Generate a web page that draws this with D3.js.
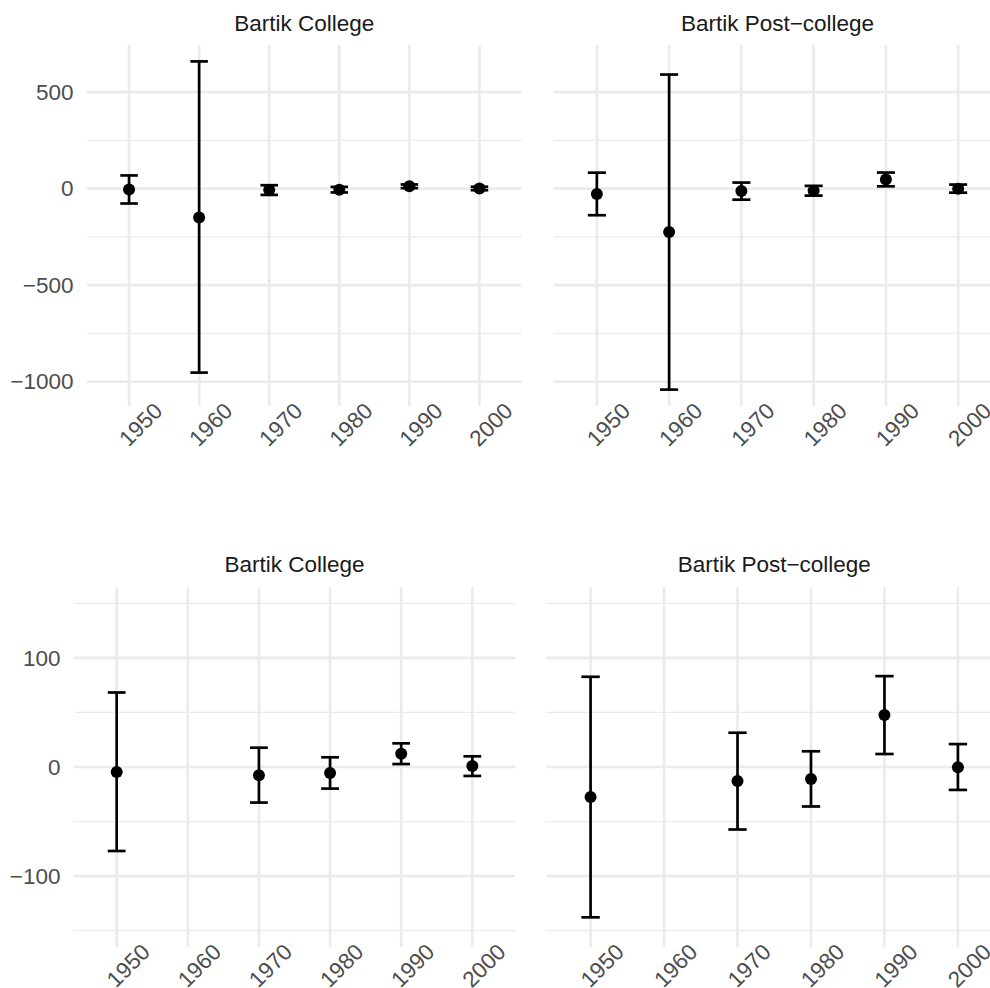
<!DOCTYPE html>
<html>
<head>
<meta charset="utf-8">
<script src="https://cdn.jsdelivr.net/npm/d3@7"></script>
<style>
  body { margin: 0; background: #fff; }
  svg { display: block; font-family: 'Liberation Sans', Arial, Helvetica, sans-serif; }
</style>
</head>
<body>
<script>
'use strict';

// data
const years = ['1950', '1960', '1970', '1980', '1990', '2000'];

const collegeEst = [-4.6, -149, -7.6, -5.5, 12.2, 0.9];
const collegeLo = [-77, -953, -32.6, -19.8, 2.7, -8.2];
const collegeHi = [68.3, 659, 17.7, 8.9, 21.7, 9.8];

const postEst = [-27.4, -225, -12.8, -11, 47.6, -0.3];
const postLo = [-137.8, -1041, -57.3, -36.2, 11.9, -21];
const postHi = [82.7, 591, 31.4, 14.4, 83.3, 21];

const topMajor = [-1000, -500, 0, 500];
const topMinor = [-750, -250, 250, 750];
const zoomLimits = [-150, 150];
const zoomMajor = [-100, 0, 100];
const zoomMinor = [-150, -50, 50, 150];

const makeRows = (est, lo, hi) =>
  years.map((yr, i) => ({ year: yr, est: est[i], lo: lo[i], hi: hi[i] }));

const college = makeRows(collegeEst, collegeLo, collegeHi);
const post = makeRows(postEst, postLo, postHi);

const expand = ([a, b]) => [a - (b - a) * 0.05, b + (b - a) * 0.05];

// top row: full range shared by both facets
const topDomain = expand(d3.extent([...college, ...post].flatMap(d => [d.lo, d.hi])));
const zoomDomain = expand(zoomLimits);
// rows outside the limits are dropped, as ggplot does
const inLimits = d => d.lo >= zoomLimits[0] && d.hi <= zoomLimits[1];

const svg = d3
  .select('body')
  .append('svg')
  .attr('width', 990)
  .attr('height', 988);

const panels = [
  { title: 'Bartik College', data: college, domain: topDomain, major: topMajor, minor: topMinor,
    x0: 87, x1: 521.5, y0: 45, y1: 406, titleY: 31, yLabels: true },
  { title: 'Bartik Post\u2212college', data: post, domain: topDomain, major: topMajor, minor: topMinor,
    x0: 553.5, x1: 1001.5, y0: 45, y1: 406, titleY: 31, yLabels: false },
  { title: 'Bartik College', data: college.filter(inLimits), domain: zoomDomain, major: zoomMajor, minor: zoomMinor,
    x0: 74, x1: 515, y0: 587, y1: 947, titleY: 572, yLabels: true },
  { title: 'Bartik Post\u2212college', data: post.filter(inLimits), domain: zoomDomain, major: zoomMajor, minor: zoomMinor,
    x0: 546.5, x1: 1002, y0: 587, y1: 947, titleY: 572, yLabels: false },
];

const fmt = d => (d < 0 ? '\u2212' + Math.abs(d) : String(d));
const gridColor = '#ebebeb';

const drawPanel = p => {
  const x = d3.scalePoint().domain(years).range([p.x0, p.x1]).padding(0.6);
  const y = d3.scaleLinear().domain(p.domain).range([p.y1, p.y0]);
  const g = svg.append('g');
  const inside = v => y(v) >= p.y0 && y(v) <= p.y1;

  // minor grid
  g.selectAll('.minor')
    .data(p.minor.filter(inside))
    .enter()
    .append('line')
    .attr('x1', p.x0)
    .attr('x2', p.x1)
    .attr('y1', d => y(d))
    .attr('y2', d => y(d))
    .attr('stroke', gridColor)
    .attr('stroke-width', 1.3);

  // major grid
  g.selectAll('.major')
    .data(p.major.filter(inside))
    .enter()
    .append('line')
    .attr('x1', p.x0)
    .attr('x2', p.x1)
    .attr('y1', d => y(d))
    .attr('y2', d => y(d))
    .attr('stroke', gridColor)
    .attr('stroke-width', 2.6);

  g.selectAll('.vgrid')
    .data(years)
    .enter()
    .append('line')
    .attr('x1', d => x(d))
    .attr('x2', d => x(d))
    .attr('y1', p.y0)
    .attr('y2', p.y1)
    .attr('stroke', gridColor)
    .attr('stroke-width', 2.6);

  // strip title
  g.append('text')
    .attr('x', (p.x0 + p.x1) / 2)
    .attr('y', p.titleY)
    .attr('text-anchor', 'middle')
    .attr('fill', '#1a1a1a')
    .attr('font-size', 22.5)
    .text(p.title);

  // y axis labels
  if (p.yLabels) {
    const yAxis = d3.axisLeft(y).tickValues(p.major).tickFormat(fmt).tickSize(0).tickPadding(13.5);
    const ya = g.append('g').attr('transform', `translate(${p.x0},0)`).call(yAxis);
    ya.select('.domain').remove();
    ya.selectAll('text')
      .attr('fill', '#4d4d4d')
      .attr('font-size', 22.5)
      .attr('font-family', null);
  }

  // x axis labels, rotated 45
  g.selectAll('.xlab')
    .data(years)
    .enter()
    .append('text')
    .attr('transform', d => `translate(${x(d) + 11.5},${p.y1 + 18.5}) rotate(-45)`)
    .attr('text-anchor', 'middle')
    .attr('dy', '0.35em')
    .attr('fill', '#4d4d4d')
    .attr('font-size', 22.5)
    .text(d => d);

  const cap = x.step() * 0.25;
  const bars = g.selectAll('.bar').data(p.data).enter().append('g')
    .attr('stroke', '#000')
    .attr('stroke-width', 2.7)
    .attr('fill', 'none');

  bars.append('line')
    .attr('x1', d => x(d.year))
    .attr('x2', d => x(d.year))
    .attr('y1', d => y(d.lo))
    .attr('y2', d => y(d.hi));
  bars.append('line')
    .attr('x1', d => x(d.year) - cap / 2)
    .attr('x2', d => x(d.year) + cap / 2)
    .attr('y1', d => y(d.hi))
    .attr('y2', d => y(d.hi));
  bars.append('line')
    .attr('x1', d => x(d.year) - cap / 2)
    .attr('x2', d => x(d.year) + cap / 2)
    .attr('y1', d => y(d.lo))
    .attr('y2', d => y(d.lo));

  g.selectAll('.pt')
    .data(p.data)
    .enter()
    .append('circle')
    .attr('cx', d => x(d.year))
    .attr('cy', d => y(d.est))
    .attr('r', 6)
    .attr('fill', '#000');
};

panels.forEach(drawPanel);
</script>
</body>
</html>
